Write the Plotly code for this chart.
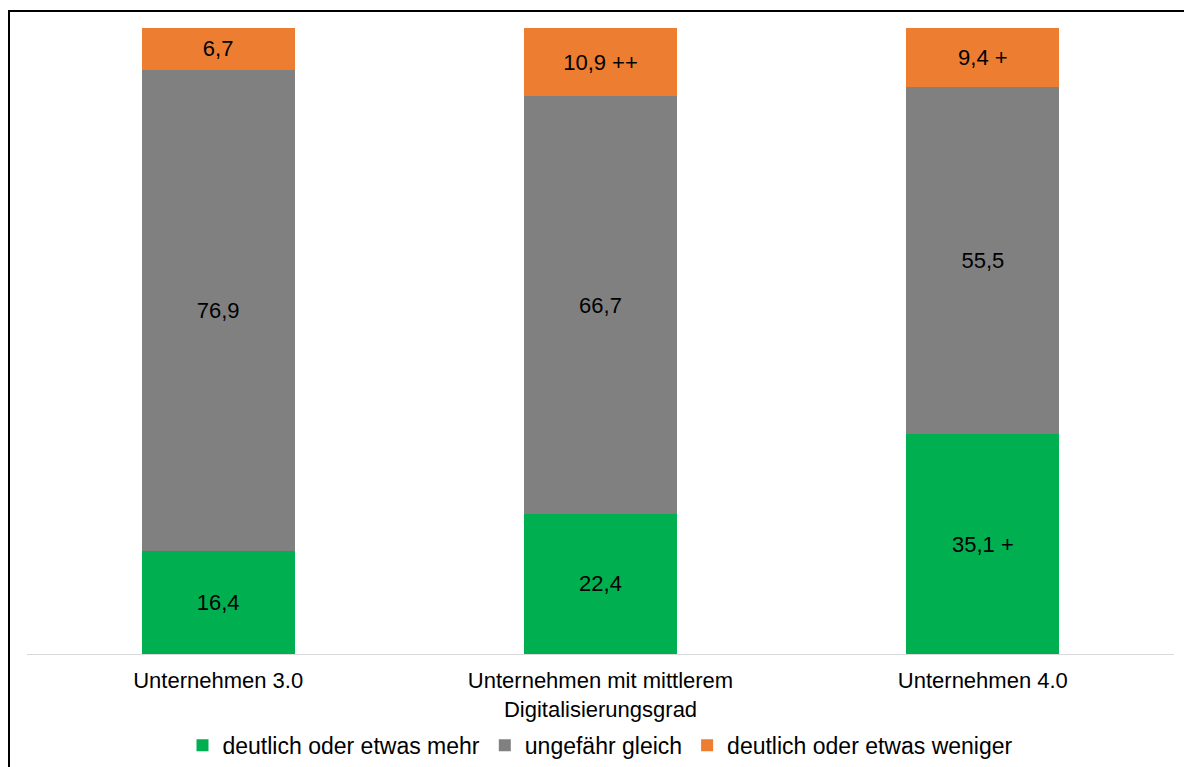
import plotly.graph_objects as go

categories = ["Unternehmen 3.0", "Unternehmen mit mittlerem<br>Digitalisierungsgrad", "Unternehmen 4.0"]
series_names = ["deutlich oder etwas mehr", "ungefähr gleich", "deutlich oder etwas weniger"]
mehr = [16.4, 22.4, 35.1]
gleich = [76.9, 66.7, 55.5]
weniger = [6.7, 10.9, 9.4]
mehr_sig = ["", "", " +"]
gleich_sig = ["", "", ""]
weniger_sig = ["", " ++", " +"]
colors = ["#00B050", "#808080", "#ED7D31"]


def fmt(v, s):
    return f"{v:.1f}".replace(".", ",") + s


FONT = "Liberation Sans, Arial, sans-serif"
fig = go.Figure()
for name, vals, sig, col in zip(series_names, [mehr, gleich, weniger],
                                [mehr_sig, gleich_sig, weniger_sig], colors):
    fig.add_trace(go.Bar(
        x=categories, y=vals, name=name,
        marker=dict(color=col, line=dict(width=0)),
        text=[fmt(v, s) for v, s in zip(vals, sig)],
        textposition="inside", insidetextanchor="middle",
        textfont=dict(family=FONT, size=22, color="black"),
        constraintext="none",
        hoverinfo="skip",
    ))

fig.update_layout(
    barmode="stack", bargap=0.6,
    width=1184, height=767,
    margin=dict(l=27, r=10, t=28, b=113, autoexpand=False),
    paper_bgcolor="white", plot_bgcolor="white",
    font=dict(family=FONT, size=22, color="black"),
    showlegend=True,
    legend=dict(orientation="h", x=0.5, xanchor="center", y=-0.146, yanchor="middle",
                font=dict(family=FONT, size=23, color="black"),
                traceorder="normal", itemclick=False, itemdoubleclick=False),
    xaxis=dict(showline=True, linecolor="#D9D9D9", linewidth=1, ticks="",
               showgrid=False, tickfont=dict(family=FONT, size=22, color="black"),
               ticklabelstandoff=7, automargin=False, fixedrange=True),
    yaxis=dict(range=[0, 100], visible=False, showgrid=False, automargin=False, fixedrange=True),
    shapes=[dict(type="rect", xref="paper", yref="paper",
                 x0=(9 - 27) / 1147, x1=(1200 - 27) / 1147,
                 y0=-(800 - 654) / 626, y1=(654 - 11) / 626,
                 line=dict(color="black", width=2), fillcolor="rgba(0,0,0,0)", layer="above")],
)

fig.write_html("out.html")
